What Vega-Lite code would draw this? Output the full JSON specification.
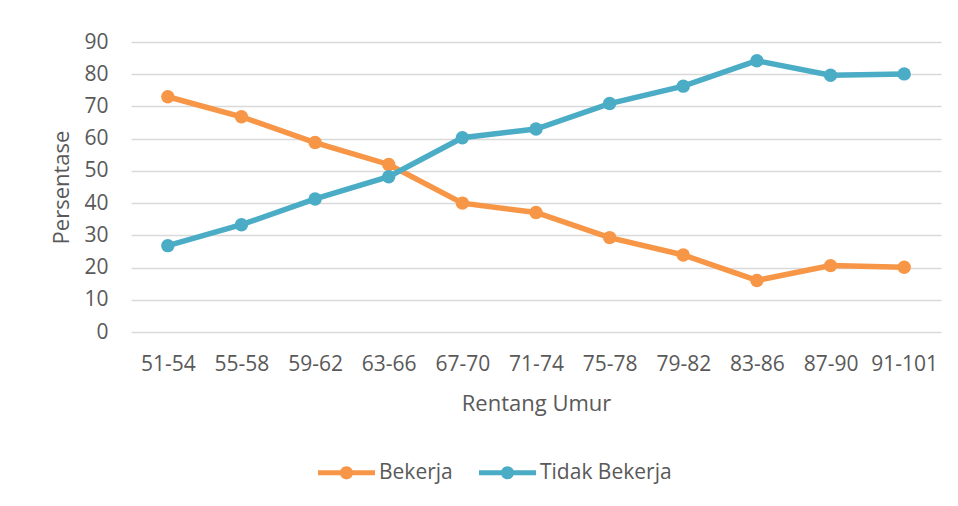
{
  "$schema": "https://vega.github.io/schema/vega-lite/v6.json",
  "autosize": {"type": "none"},
  "width": 810,
  "height": 290,
  "padding": {"left": 131, "top": 42, "right": 17, "bottom": 174},
  "background": "white",
  "config": {
    "view": {"stroke": null},
    "font": "Open Sans",
    "axis": {"labelColor": "#595959", "titleColor": "#595959", "labelFont": "Open Sans", "titleFont": "Open Sans", "titleFontWeight": "normal"},
    "legend": {"labelFont": "Open Sans", "labelColor": "#595959"}
  },
  "data": {
    "values": [
      {"umur": "51-54", "status": "Bekerja", "persen": 73.0},
      {"umur": "55-58", "status": "Bekerja", "persen": 66.8},
      {"umur": "59-62", "status": "Bekerja", "persen": 58.8},
      {"umur": "63-66", "status": "Bekerja", "persen": 52.0},
      {"umur": "67-70", "status": "Bekerja", "persen": 40.0},
      {"umur": "71-74", "status": "Bekerja", "persen": 37.1},
      {"umur": "75-78", "status": "Bekerja", "persen": 29.3},
      {"umur": "79-82", "status": "Bekerja", "persen": 23.9},
      {"umur": "83-86", "status": "Bekerja", "persen": 16.0},
      {"umur": "87-90", "status": "Bekerja", "persen": 20.6},
      {"umur": "91-101", "status": "Bekerja", "persen": 20.1},
      {"umur": "51-54", "status": "Tidak Bekerja", "persen": 26.8},
      {"umur": "55-58", "status": "Tidak Bekerja", "persen": 33.3},
      {"umur": "59-62", "status": "Tidak Bekerja", "persen": 41.3},
      {"umur": "63-66", "status": "Tidak Bekerja", "persen": 48.2},
      {"umur": "67-70", "status": "Tidak Bekerja", "persen": 60.3},
      {"umur": "71-74", "status": "Tidak Bekerja", "persen": 63.0},
      {"umur": "75-78", "status": "Tidak Bekerja", "persen": 70.9},
      {"umur": "79-82", "status": "Tidak Bekerja", "persen": 76.3},
      {"umur": "83-86", "status": "Tidak Bekerja", "persen": 84.2},
      {"umur": "87-90", "status": "Tidak Bekerja", "persen": 79.7},
      {"umur": "91-101", "status": "Tidak Bekerja", "persen": 80.1}
    ]
  },
  "mark": {"type": "line", "strokeWidth": 5.5, "point": {"size": 180, "filled": true, "opacity": 1}},
  "encoding": {
    "x": {
      "field": "umur", "type": "ordinal", "sort": null,
      "scale": {"type": "point", "padding": 0.5},
      "axis": {"title": "Rentang Umur", "labelAngle": 0, "labelFontSize": 21, "titleFontSize": 22, "labelPadding": 21, "titlePadding": 19, "ticks": false, "tickSize": 0, "domain": false, "grid": false}
    },
    "y": {
      "field": "persen", "type": "quantitative",
      "scale": {"domain": [0, 90], "nice": false},
      "axis": {"title": "Persentase", "values": [0,10,20,30,40,50,60,70,80,90], "labelFontSize": 21, "titleFontSize": 22, "labelPadding": 23, "titlePadding": 10, "ticks": false, "tickSize": 0, "domain": false, "gridColor": "#D9D9D9", "gridWidth": 1.5}
    },
    "color": {
      "field": "status", "type": "nominal",
      "scale": {"domain": ["Bekerja", "Tidak Bekerja"], "range": ["#F79646", "#4BACC6"]},
      "legend": {
        "title": null, "orient": "none", "direction": "horizontal",
        "legendX": 187, "legendY": 402,
        "symbolType": "M-1,-0.09H1V0.09H-1Z M-0.23,0A0.23,0.23 0 1,1 0.23,0A0.23,0.23 0 1,1 -0.23,0Z",
        "symbolSize": 3249,
        "symbolStrokeWidth": 0,
        "labelFontSize": 21, "labelOffset": 4, "columnPadding": 26,
        "encode": {"symbols": {"update": {"fill": {"scale": "color", "field": "value"}, "strokeWidth": {"value": 0}, "opacity": {"value": 1}}}}
      }
    }
  }
}
